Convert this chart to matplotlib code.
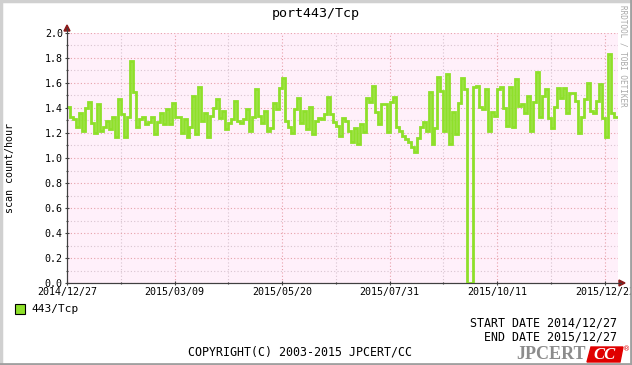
"""RRDtool-style scan count chart for port443/Tcp."""
import numpy as np
import matplotlib
matplotlib.use("Agg")
import matplotlib.pyplot as plt
from matplotlib.lines import Line2D
from matplotlib.patches import Rectangle, Polygon

title = "port443/Tcp"
series_name = "443/Tcp"
y_label = "scan count/hour"
start_date = "2014-12-27"
end_date = "2015-12-27"
step_days = 2

# one value per 2-day step
counts = [
    1.41, 1.33, 1.31, 1.25, 1.36, 1.22, 1.40, 1.45, 1.28, 1.20, 1.43, 1.22, 1.25, 1.30, 1.23, 1.33,
    1.17, 1.47, 1.35, 1.17, 1.33, 1.78, 1.53, 1.25, 1.31, 1.33, 1.27, 1.29, 1.33, 1.19, 1.29,
    1.36, 1.27, 1.39, 1.27, 1.44, 1.33, 1.33, 1.20, 1.31, 1.17, 1.25, 1.50, 1.19, 1.57, 1.30, 1.36,
    1.17, 1.34, 1.40, 1.47, 1.32, 1.38, 1.23, 1.28, 1.31, 1.46, 1.30, 1.28, 1.31, 1.39, 1.22,
    1.33, 1.55, 1.34, 1.28, 1.38, 1.22, 1.24, 1.44, 1.39, 1.56, 1.64, 1.30, 1.25, 1.20, 1.39, 1.48,
    1.28, 1.38, 1.23, 1.41, 1.19, 1.30, 1.32, 1.31, 1.35, 1.49, 1.35, 1.29, 1.26, 1.18, 1.32,
    1.30, 1.22, 1.13, 1.24, 1.11, 1.27, 1.21, 1.48, 1.45, 1.58, 1.37, 1.27, 1.43, 1.43, 1.21, 1.45,
    1.49, 1.25, 1.22, 1.18, 1.15, 1.13, 1.09, 1.05, 1.16, 1.25, 1.29, 1.22, 1.53, 1.11, 1.24,
    1.65, 1.54, 1.22, 1.67, 1.11, 1.37, 1.19, 1.44, 1.64, 1.55, 0.0, 0.0, 1.57, 1.58, 1.41, 1.39,
    1.55, 1.22, 1.37, 1.34, 1.55, 1.57, 1.40, 1.26, 1.57, 1.25, 1.63, 1.42, 1.43, 1.36, 1.50, 1.22,
    1.45, 1.69, 1.33, 1.50, 1.55, 1.32, 1.24, 1.41, 1.56, 1.48, 1.56, 1.36, 1.52, 1.52, 1.46, 1.20,
    1.33, 1.47, 1.60, 1.38, 1.36, 1.46, 1.59, 1.32, 1.17, 1.83, 1.36, 1.33,
]
tick_dates = ["2014-12-27", "2015-03-09", "2015-05-20", "2015-07-31", "2015-10-11", "2015-12-22"]
x_span_days = 368.5

W, H = 632, 365
MONO = "DejaVu Sans Mono"
LINE_GREEN = "#8ee02a"
ARROW_RED = "#8b1a1a"


def fx(px):
    return px / W


def fy(py):
    return 1 - py / H


fig = plt.figure(figsize=(W / 100, H / 100), dpi=100)
fig.patch.set_facecolor("white")

ax = fig.add_axes([fx(67), fy(283), fx(617.5) - fx(67), fy(33) - fy(283)])
ax.set_facecolor("#fff0fa")

start = np.datetime64(start_date)
days = np.arange(len(counts) + 1) * step_days
values = counts + [counts[-1]]
ax.plot(days, values, drawstyle="steps-post", color=LINE_GREEN, lw=2.0,
        solid_joinstyle="miter", zorder=3)

tick_pos = [(np.datetime64(d) - start) / np.timedelta64(1, "D") for d in tick_dates]
ax.set_xticks(tick_pos)
ax.set_xticklabels([d.replace("-", "/") for d in tick_dates], family=MONO, fontsize=7.2)
minor_pos = [(a + b) / 2 for a, b in zip(tick_pos[:-1], tick_pos[1:])]
ax.set_xticks(minor_pos, minor=True)
ax.set_yticks(np.arange(0, 2.01, 0.2))
ax.set_yticklabels([f"{v:.1f}" for v in np.arange(0, 2.01, 0.2)], family=MONO, fontsize=7.2)
ax.set_yticks(np.arange(0.1, 2.0, 0.2), minor=True)
ax.set_xlim(0, x_span_days)
ax.set_ylim(0, 2.0)

ax.grid(which="major", color="#e8a0aa", lw=0.8, linestyle=(0, (1, 2)))
ax.grid(which="minor", color="#d8c4d0", lw=0.8, linestyle=(0, (1, 2)))
ax.set_axisbelow(True)
ax.tick_params(which="major", length=3, width=0.8, color="#404040", pad=1.5, direction="inout")
ax.tick_params(which="minor", length=2, width=0.8, color="#404040", direction="inout")
for side in ("top", "right"):
    ax.spines[side].set_visible(False)
for side in ("left", "bottom"):
    ax.spines[side].set_color("#404040")
    ax.spines[side].set_linewidth(0.8)

# axis extensions with arrow heads
fig.add_artist(Line2D([fx(67), fx(67)], [fy(283), fy(28)], color="#404040", lw=0.8))
fig.add_artist(Line2D([fx(67), fx(621)], [fy(283), fy(283)], color="#404040", lw=0.8))
fig.add_artist(Polygon([[fx(64), fy(31)], [fx(70), fy(31)], [fx(67), fy(25)]],
                       closed=True, color=ARROW_RED))
fig.add_artist(Polygon([[fx(619), fy(280)], [fx(619), fy(286)], [fx(625), fy(283)]],
                       closed=True, color=ARROW_RED))

# frame around the image
fig.add_artist(Line2D([0, 1], [fy(1), fy(1)], color="#d0d0d0", lw=2.5))
fig.add_artist(Line2D([fx(1), fx(1)], [0, 1], color="#d0d0d0", lw=2.5))
fig.add_artist(Line2D([0, 1], [fy(364), fy(364)], color="#a0a0a0", lw=2))
fig.add_artist(Line2D([fx(631), fx(631)], [0, 1], color="#a0a0a0", lw=2))

fig.text(fx(316), fy(13), title, ha="center", va="center", family=MONO, fontsize=9.6)
fig.text(fx(10), fy(168), y_label, ha="center", va="center", rotation=90,
         family=MONO, fontsize=7.2)
fig.text(fx(623), fy(5), "RRDTOOL / TOBI OETIKER", ha="center", va="top", rotation=270,
         family=MONO, fontsize=5.5, color="#a8a8a8")

# legend
fig.add_artist(Rectangle((fx(15), fy(314)), fx(10), fy(304) - fy(314),
                         facecolor=LINE_GREEN, edgecolor="black", lw=0.8))
fig.text(fx(31), fy(309), series_name, ha="left", va="center", family=MONO, fontsize=8)

fig.text(fx(617), fy(323), "START DATE " + start_date.replace("-", "/"),
         ha="right", va="center", family=MONO, fontsize=8.4)
fig.text(fx(617), fy(337.5), "END DATE " + end_date.replace("-", "/"),
         ha="right", va="center", family=MONO, fontsize=8.4)
fig.text(fx(300), fy(352), "COPYRIGHT(C) 2003-2015 JPCERT/CC",
         ha="center", va="center", family=MONO, fontsize=8.4)

# JPCERT/CC logo
fig.text(fx(516), fy(354.5), "JPCERT", ha="left", va="center", family="Liberation Serif",
         weight="bold", fontsize=13, color="#8c8c8c")
fig.add_artist(Polygon([[fx(591), fy(347)], [fx(623), fy(347)], [fx(620), fy(362)], [fx(587), fy(362)]],
                       closed=True, color="#e00000"))
fig.text(fx(605), fy(355), "CC", ha="center", va="center", family="Liberation Serif",
         weight="bold", style="italic", fontsize=12, color="white")
fig.text(fx(627), fy(349), "\u00ae", ha="center", va="center", fontsize=5, color="#e00000")

fig.savefig("out.png", dpi=100)
